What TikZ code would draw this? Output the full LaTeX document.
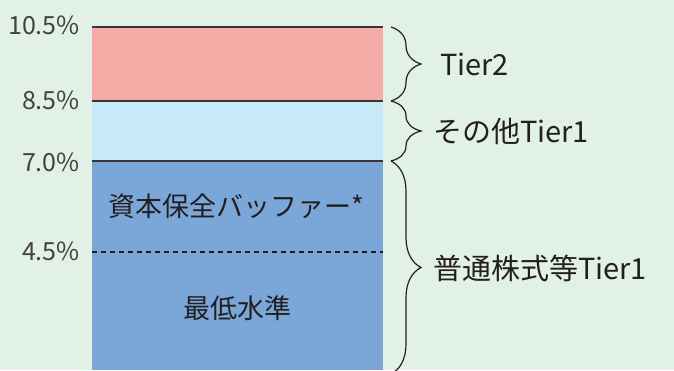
\documentclass[tikz,border=0pt]{standalone}
\usepackage{fontspec}
\setmainfont{Noto Sans CJK JP}
\usetikzlibrary{decorations.pathreplacing}
\definecolor{bgcol}{HTML}{E2F1E6}
\definecolor{tiertwo}{HTML}{F7ABA6}
\definecolor{tierone}{HTML}{C8E9F8}
\definecolor{cetone}{HTML}{7BA7D8}
\definecolor{inkcol}{HTML}{231F20}
\begin{document}
\begin{tikzpicture}[x=1pt,y=1pt]
        \tikzstyle{every node}=[text=inkcol,inner sep=0pt,font=\fontsize{27}{31}\selectfont]
        \tikzstyle{pct}=[anchor=east,font=\fontsize{25}{29}\selectfont,text=inkcol!85]
        \tikzstyle{divider}=[draw=inkcol!90,line width=1.4pt]
        \tikzstyle{tierbrace}=[draw=inkcol,line width=1.2pt,decorate,decoration={brace,amplitude=30pt}]
        \tikzstyle{tierlabel}=[anchor=west,font=\fontsize{29}{33}\selectfont]
        \fill[bgcol] (0,0) rectangle (674,370);
        \useasboundingbox (0,0) rectangle (674,370);
        % bar segments
        \fill[cetone] (92,0) rectangle (383,209);
        \fill[tierone] (92,209) rectangle (383,269);
        \fill[tiertwo] (92,269) rectangle (383,343);
        \coordinate (p105) at (383,343);
        \coordinate (p85) at (383,269);
        \coordinate (p70) at (383,209);
        \coordinate (p0) at (383,-4);
        \draw[divider] (92,343) -- (p105);
        \draw[divider] (92,269) -- (p85);
        \draw[divider] (92,209) -- (p70);
        \draw[inkcol,line width=1.2pt,dash pattern=on 5pt off 4pt] (92,118) coordinate (d45) -- (383,118);
        % percent labels
        \node[pct] (l105) at (80,345) {10.5\%};
        \node[pct] (l85) at (80,270) {8.5\%};
        \node[pct] (l70) at (80,208) {7.0\%};
        \node[pct] (l45) at (80,119) {4.5\%};
        % bar texts
        \node (buffer) at (236,164) {資本保全バッファー*};
        \node (minimum) at (237,62) {最低水準};
        % braces
        \draw[tierbrace] ([xshift=8pt]p105) -- ([xshift=8pt]p85);
        \draw[tierbrace] ([xshift=8pt]p85) -- ([xshift=8pt]p70);
        \draw[tierbrace] ([xshift=8pt]p70) -- ([xshift=8pt]p0);
        \node[tierlabel] (t2) at (440,306) {Tier2};
        \node[tierlabel] (t1) at (433,239) {その他Tier1};
        \node[tierlabel] (cet1) at (433,102) {普通株式等Tier1};
\end{tikzpicture}
\end{document}
